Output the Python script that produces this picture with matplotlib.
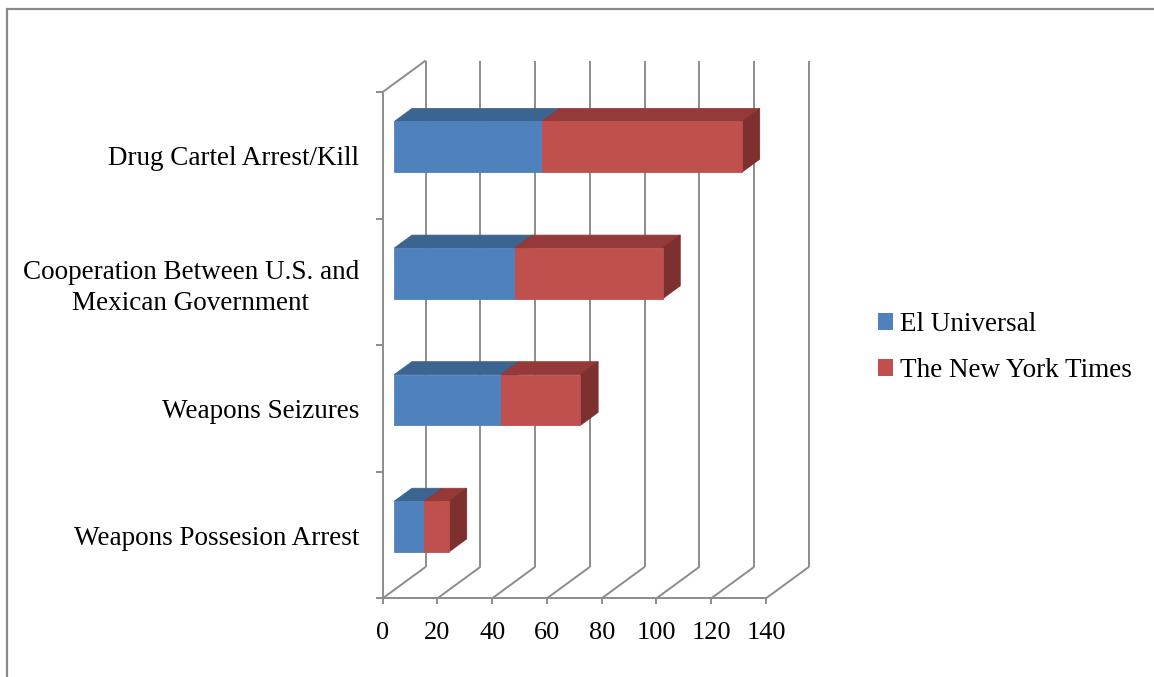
import matplotlib
matplotlib.use("Agg")
import matplotlib.pyplot as plt
from matplotlib.patches import Patch, Rectangle

# Data (bottom to top)
categories = ["Weapons Possesion Arrest", "Weapons Seizures",
              "Cooperation Between U.S. and\nMexican Government",
              "Drug Cartel Arrest/Kill"]
el_universal = [11, 39, 44, 54]
ny_times = [9, 29, 54, 73]
series_names = ["El Universal", "The New York Times"]
x_ticks = [0, 20, 40, 60, 80, 100, 120, 140]

W, H, DPI = 1154, 677, 100
plt.rcParams["font.family"] = ["Liberation Serif", "DejaVu Serif"]
FS = 19.5
FS_TICK = 19

fig = plt.figure(figsize=(W / DPI, H / DPI), dpi=DPI)

# outer chart border: only its top and left edges fall inside the canvas
fig.patches.append(Rectangle((6.5 / W, -0.5), 2, 1.5 - 8.5 / H, transform=fig.transFigure,
                             fill=False, edgecolor="#8a8a8a", lw=1.6))

# front plane of the plot area in pixels
x0_px, x1_px = 382.7, 766.0
yb_px, yt_px = 598.3, 92.0
ax = fig.add_axes([x0_px / W, (H - yb_px) / H, (x1_px - x0_px) / W, (yb_px - yt_px) / H])
XMAX, NCAT = 140, len(categories)
ax.set_xlim(0, XMAX)
ax.set_ylim(0, NCAT)

# depth vector (pixels) converted into data units
DEPTH_PX = (43.0, 31.5)
px_x = (x1_px - x0_px) / XMAX
px_y = (yb_px - yt_px) / NCAT
DX, DY = DEPTH_PX[0] / px_x, DEPTH_PX[1] / px_y

grid_c = "#8c8c8c"
glw = 1.4

def seg(xs, ys):
    ax.plot(xs, ys, color=grid_c, lw=glw, clip_on=False, solid_capstyle="butt", zorder=1)

# back wall verticals and floor diagonals
for v in x_ticks:
    seg([v + DX, v + DX], [DY, NCAT + DY])
    seg([v, v + DX], [0, DY])
# left wall top edge
seg([0, DX], [NCAT, NCAT + DY])

# front axis lines via spines and ticks
for s in ["top", "right"]:
    ax.spines[s].set_visible(False)
for s in ["bottom", "left"]:
    ax.spines[s].set_color(grid_c)
    ax.spines[s].set_linewidth(glw)
ax.patch.set_visible(False)

ax.set_xticks(x_ticks)
ax.set_xticklabels([str(t) for t in x_ticks], fontsize=FS_TICK)
ax.tick_params(axis="x", direction="out", length=4, width=glw, color=grid_c, pad=13)

ax.set_yticks(range(NCAT + 1))
ax.set_yticklabels([])
ax.tick_params(axis="y", which="major", direction="out", length=5, width=glw, color=grid_c)
ax.set_yticks([i + 0.5 for i in range(NCAT)], minor=True)
ax.set_yticklabels(categories, minor=True, fontsize=FS, ha="right",
                   multialignment="center", linespacing=1.3)
ax.tick_params(axis="y", which="minor", length=0, pad=17)

# 3D-style stacked bars
D0, D1 = 0.27, 0.68
BAR_H = 0.4
colors = {
    "El Universal": ("#4f81bd", "#3c6491", "#345781"),
    "The New York Times": ("#c0504d", "#943a38", "#7d302e"),
}

def box(left, right, yc, front, top, side, z):
    ox, oy = D0 * DX, D0 * DY
    tx, ty = (D1 - D0) * DX, (D1 - D0) * DY
    yl, yh = yc - BAR_H / 2, yc + BAR_H / 2
    kw = dict(clip_on=False, zorder=z, lw=0.6)
    # top face
    ax.fill([left + ox, right + ox, right + ox + tx, left + ox + tx],
            [yh + oy, yh + oy, yh + oy + ty, yh + oy + ty], color=top, ec=top, **kw)
    # right side face
    ax.fill([right + ox, right + ox + tx, right + ox + tx, right + ox],
            [yl + oy, yl + oy + ty, yh + oy + ty, yh + oy], color=side, ec=side, **kw)
    # front face
    ax.fill([left + ox, right + ox, right + ox, left + ox],
            [yl + oy, yl + oy, yh + oy, yh + oy], color=front, ec=front, **kw)

for i in range(NCAT):
    yc = i + 0.5
    a, b = el_universal[i], ny_times[i]
    box(0, a, yc, *colors[series_names[0]], z=3)
    box(a, a + b, yc, *colors[series_names[1]], z=4)

handles = [Patch(facecolor=colors[n][0], edgecolor="none", label=n) for n in series_names]
fig.legend(handles=handles, loc="center left", bbox_to_anchor=(878 / W, 1 - 347.5 / H),
           frameon=False, fontsize=FS, handlelength=0.55, handleheight=0.55,
           handletextpad=0.25, labelspacing=0.77, borderpad=0, borderaxespad=0)

fig.savefig("out.png", dpi=DPI)
